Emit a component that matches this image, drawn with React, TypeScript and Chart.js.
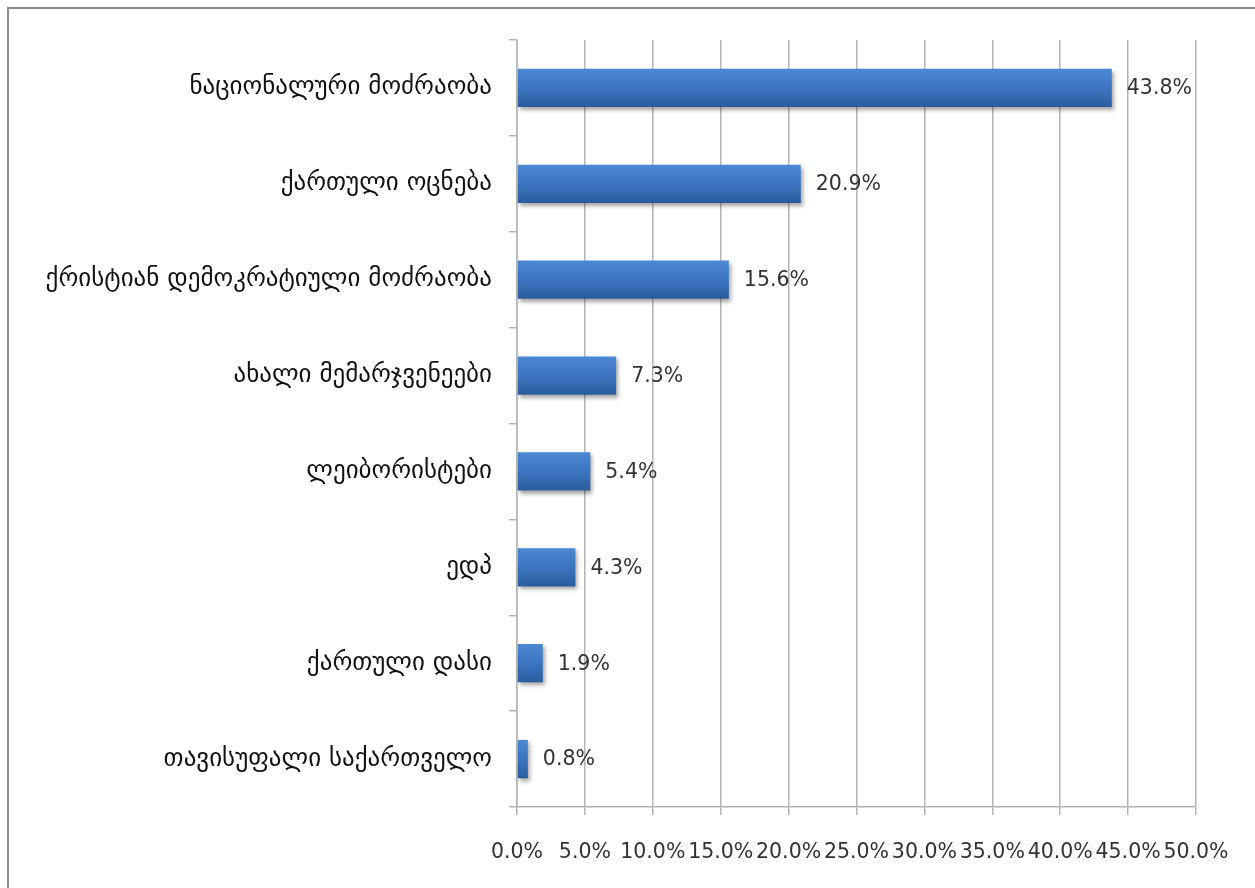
import React, { useEffect, useRef } from "react";
import { Chart, registerables } from "chart.js";

Chart.register(...registerables);

const categories = [
  "ნაციონალური მოძრაობა",
  "ქართული ოცნება",
  "ქრისტიან დემოკრატიული მოძრაობა",
  "ახალი მემარჯვენეები",
  "ლეიბორისტები",
  "ედპ",
  "ქართული დასი",
  "თავისუფალი საქართველო",
];
const values = [43.8, 20.9, 15.6, 7.3, 5.4, 4.3, 1.9, 0.8];
const xMin = 0;
const xMax = 50;
const xStep = 5;

const FONT = "'DejaVu Sans', sans-serif";

const shadowPlugin = {
  id: "barShadow",
  beforeDatasetDraw(chart: any) {
    const ctx = chart.ctx;
    ctx.save();
    ctx.shadowColor = "rgba(0,0,0,0.35)";
    ctx.shadowOffsetX = 2;
    ctx.shadowOffsetY = 3;
    ctx.shadowBlur = 4;
  },
  afterDatasetDraw(chart: any) {
    chart.ctx.restore();
  },
};

const labelPlugin = {
  id: "valueLabels",
  afterDatasetsDraw(chart: any) {
    const ctx = chart.ctx;
    const meta = chart.getDatasetMeta(0);
    ctx.save();
    ctx.font = `20.5px ${FONT}`;
    ctx.fillStyle = "#333333";
    ctx.textAlign = "left";
    ctx.textBaseline = "middle";
    meta.data.forEach((el: any, i: number) => {
      ctx.fillText(values[i].toFixed(1) + "%", el.x + 15, el.y + 1);
    });
    ctx.restore();
  },
};

export default function App() {
  const ref = useRef<HTMLCanvasElement | null>(null);

  useEffect(() => {
    if (!ref.current) return;
    const chart = new Chart(ref.current, {
      type: "bar",
      data: {
        labels: categories,
        datasets: [
          {
            data: values,
            barPercentage: 1,
            categoryPercentage: 0.4,
            borderWidth: 0,
            backgroundColor: (c: any) => {
              const ch = c.chart;
              const area = ch.chartArea;
              if (!area || c.dataIndex === undefined) return "#3a74c0";
              const y = ch.scales.y.getPixelForValue(c.dataIndex);
              const h = ((area.bottom - area.top) / categories.length) * 0.4;
              const g = ch.ctx.createLinearGradient(0, y - h / 2, 0, y + h / 2);
              g.addColorStop(0, "#4d89d3");
              g.addColorStop(0.5, "#3b75c1");
              g.addColorStop(1, "#2b5c9c");
              return g;
            },
          },
        ],
      },
      options: {
        indexAxis: "y",
        animation: false,
        responsive: false,
        devicePixelRatio: 1,
        layout: { padding: { top: 40, left: 0, right: 59, bottom: 0 } },
        plugins: {
          legend: { display: false },
          tooltip: { enabled: false },
        },
        scales: {
          x: {
            min: xMin,
            max: xMax,
            ticks: {
              stepSize: xStep,
              autoSkip: false,
              maxRotation: 0,
              padding: 25,
              color: "#333333",
              font: { family: FONT, size: 20.5 },
              callback: (v: any) => Number(v).toFixed(1) + "%",
            },
            grid: {
              color: "#b4b4b4",
              lineWidth: 1.5,
              tickLength: 8,
            },
            border: { color: "#b4b4b4", width: 1.5 },
            afterFit: (s: any) => {
              s.height = 81;
            },
          },
          y: {
            ticks: {
              padding: 17,
              color: "#111111",
              font: { family: FONT, size: 25 },
            },
            grid: {
              drawOnChartArea: false,
              color: "#b4b4b4",
              lineWidth: 1.5,
              tickLength: 8,
              offset: true,
            },
            border: { color: "#b4b4b4", width: 1.5 },
            afterFit: (s: any) => {
              s.width = 517;
            },
          },
        },
      },
      plugins: [shadowPlugin, labelPlugin],
    } as any);
    return () => chart.destroy();
  }, []);

  return (
    <div
      style={{
        position: "fixed",
        left: 0,
        top: 0,
        width: 1255,
        height: 888,
        overflow: "hidden",
        background: "#ffffff",
      }}
    >
      <div
        style={{
          position: "absolute",
          left: 7,
          top: 7,
          width: 1400,
          height: 1000,
          border: "2px solid #8c8c8c",
        }}
      />
      <canvas
        ref={ref}
        width={1255}
        height={888}
        style={{ position: "absolute", left: 0, top: 0, width: 1255, height: 888 }}
      />
    </div>
  );
}
